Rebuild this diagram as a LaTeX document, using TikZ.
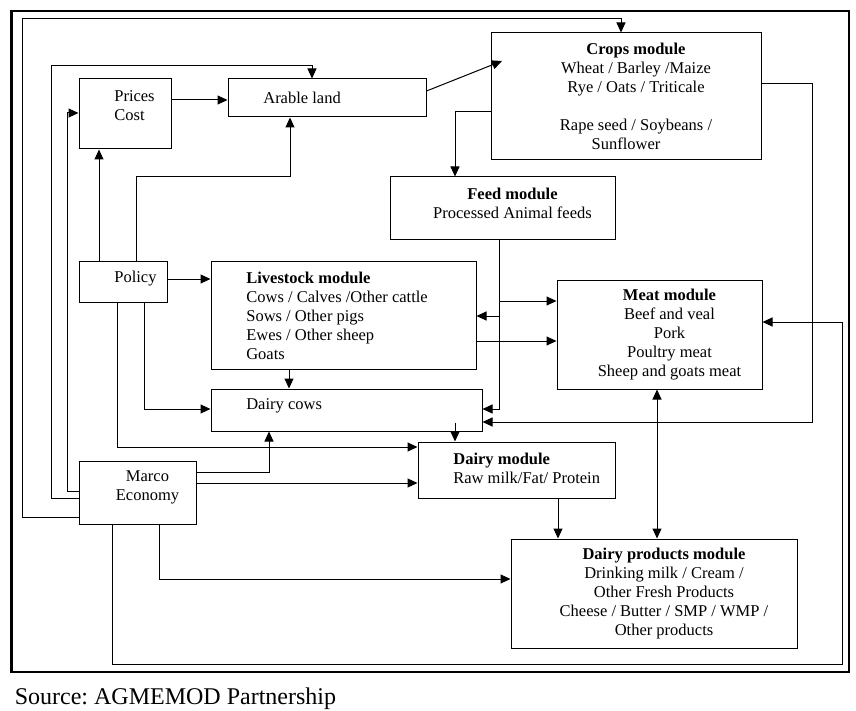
\documentclass[tikz,border=0pt]{standalone}
\usepackage{fontspec}
\setmainfont{Liberation Serif}
\usetikzlibrary{arrows.meta}
\frenchspacing

\begin{document}
\begin{tikzpicture}[x=1pt,y=-1pt,line width=1pt,>={Triangle[length=10pt,width=9pt]},
		font=\fontsize{16.5}{19}\selectfont,
		modbox/.style 2 args={draw,inner sep=0pt,minimum width=#1pt,minimum height=#2pt},
		mid/.style={align=center,xshift=10pt},
		lft/.style={align=left,anchor=west,xshift=32pt}]
		\useasboundingbox (0,0) rectangle (856,711);
		\draw[line width=2.5pt] (11.5,11) rectangle (849,672);
		
		% boxes
		\node (prices)[modbox={92}{70},label={[lft,yshift=8pt]west:{Prices\\Cost}}] at (125,114) {};
		\node (arable)[modbox={198}{38},label={[lft]west:{Arable land}}] at (327,98) {};
		\node (crops)[modbox={270}{127},label={[mid]center:{\textbf{Crops module}\\Wheat / Barley /Maize\\Rye / Oats / Triticale\\[19pt]Rape seed / Soybeans /\\Sunflower\hspace*{20pt}}}] at (626,96.5) {};
		\node (feed)[modbox={225}{63},label={[mid,yshift=5pt]center:{\textbf{Feed module}\\Processed Animal feeds}}] at (502.5,208.5) {};
		\node (policy)[modbox={88}{40},label={[lft,yshift=3pt]west:{Policy}}] at (123,282) {};
		\node (livestock)[modbox={265}{107},label={[lft]west:{\textbf{Livestock module}\\Cows / Calves /Other cattle\\Sows / Other pigs\\Ewes / Other sheep\\Goats}}] at (343.5,315.5) {};
		\node (dcows)[modbox={271}{42},label={[lft,yshift=4pt]west:{Dairy cows}}] at (346.5,410) {};
		\node (meat)[modbox={205}{109},label={[mid]center:{\textbf{Meat module}\\Beef and veal\\Pork\\Poultry meat\\Sheep and goats meat}}] at (659.5,334.5) {};
		\node (marco)[modbox={117}{63},label={[mid,yshift=5pt]center:{Marco\\Economy}}] at (137.5,492.5) {};
		\node (dairy)[modbox={197}{56},label={[lft,yshift=2pt]west:{\textbf{Dairy module}\\Raw milk/Fat/ Protein}}] at (516.5,470) {};
		\node (dprod)[modbox={286}{109},label={[mid]center:{\textbf{Dairy products module}\\Drinking milk / Cream /\\Other Fresh Products\\Cheese / Butter / SMP / WMP /\\Other products}}] at (654,593.5) {};
		\node (src)[anchor=base west,font=\fontsize{24}{28}\selectfont] at (11,704) {Source: AGMEMOD Partnership};
		
		\coordinate (cropsin) at (502,61);
		\coordinate (fdmeat) at (499,301);
		\coordinate (fdlive) at (499,316);
		
		% connectors
		\draw[->] (prices.east |- 0,100) -- (arable.west |- 0,100);
		\draw[->] (arable.east |- 0,91) -- (cropsin);
		\draw[->] (marco.west |- 0,491) -| (67,113) -- (prices.west |- 0,113);
		\draw[->] (marco.west |- 0,498) -| (51,66) -| (arable.north -| 312,0);
		\draw[->] (marco.west |- 0,517) -| (22,19) -| (crops.north -| 621,0);
		\draw[->] (policy.north -| 99,0) -- (prices.south -| 99,0);
		\draw[->] (policy.north -| 136,0) |- (290,177) -- (arable.south -| 290,0);
		\draw[->] (policy.east |- 0,279) -- (livestock.west |- 0,279);
		\draw[->] (policy.south -| 144,0) |- (dcows.west |- 0,409);
		\draw[->] (policy.south -| 117,0) |- (dairy.west |- 0,447);
		\draw[->] (marco.east |- 0,472) -| (dcows.south -| 269,0);
		\draw[->] (marco.east |- 0,483) -- (dairy.west |- 0,483);
		\draw[->] (marco.south -| 159,0) |- (dprod.west |- 0,579);
		\draw[->] (marco.south -| 112,0) |- (842,664) |- (meat.east |- 0,322);
		\draw[->] (crops.west |- 0,112) -| (feed.north -| 455,0);
		\draw[->] (feed.south -| 499,0) |- (dcows.east |- 0,409);
		\draw[->] (fdmeat) -- (meat.west |- fdmeat);
		\draw[->] (fdlive) -- (livestock.east |- fdlive);
		\draw[->] (livestock.east |- 0,341) -- (meat.west |- 0,341);
		\draw[->] (livestock.south -| 289,0) -- (dcows.north -| 289,0);
		\draw[->] (dcows.south -| 455,0) ++(0,-9) -- (dairy.north -| 455,0);
		\draw[->] (crops.east |- 0,84) -| (812,422) -- (dcows.east |- 0,422);
		\draw[<->] (meat.south -| 657,0) -- (dprod.north -| 657,0);
		\draw[->] (dairy.south -| 558,0) -- (dprod.north -| 558,0);
	\end{tikzpicture}
\end{document}
